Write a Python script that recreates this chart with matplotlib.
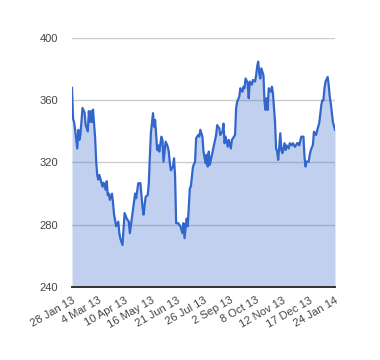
import matplotlib
matplotlib.use("Agg")
import matplotlib.pyplot as plt

plt.rcParams["font.family"] = ["Liberation Sans", "DejaVu Sans"]

# trading-day index and closing value
day = [
    0, 1, 2, 3, 5, 6, 7, 8, 10, 12, 13, 15, 16, 17, 18, 19, 20, 21, 22, 23,
    24, 25, 26, 28, 29, 30, 32, 33, 34, 35, 36, 38, 39, 40, 42, 44, 45, 46, 48, 50,
    52, 54, 55, 58, 60, 61, 63, 65, 67, 68, 70, 72, 73, 74, 75, 77, 78, 79, 81, 82,
    83, 85, 86, 87, 89, 91, 92, 93, 94, 96, 97, 98, 99, 101, 103, 105, 106, 107, 109, 110,
    112, 113, 115, 117, 118, 120, 121, 122, 124, 125, 127, 128, 129, 130, 131, 132, 135, 137, 138, 140,
    141, 143, 144, 145, 146, 148, 149, 151, 152, 155, 156, 157, 159, 160, 162, 163, 164, 165, 167, 168,
    169, 171, 172, 174, 175, 176, 177, 178, 179, 180, 182, 183, 184, 185, 186, 187, 189, 190, 191, 193,
    194, 195, 196, 198, 199, 200, 202, 203, 204, 206, 207, 209, 210, 212, 214, 215, 216, 218, 220, 221,
    222, 223, 225, 226, 227, 229, 230, 232, 234, 235, 237, 238, 239, 240, 241, 243, 244, 245, 246, 247,
    248, 250,
]
price = [
    368, 348, 346, 341, 329, 341, 334.5, 338, 355, 352, 344, 340, 353, 346, 353, 346, 354, 345, 335.6, 320.6,
    312, 309, 312, 307, 304.5, 307, 302.4, 308, 299, 300, 296, 300, 294, 286.5, 279, 282, 274.6, 271, 267, 287.5,
    284, 282, 274.6, 289.6, 300, 297, 306.7, 306.7, 291.7, 286.5, 298, 299, 306.7, 323.8, 339, 351.7, 343, 347.4, 328, 331,
    327, 336.6, 334.5, 320.6, 333.4, 330.2, 327, 319.5, 315, 317.4, 322.7, 311, 281, 281, 279, 274.6, 281, 271.4, 284, 279,
    303.5, 304.6, 317.4, 320.6, 335.6, 337.7, 336.6, 341, 336.6, 327, 319.5, 325, 317.4, 327, 318.5, 321.7, 331, 337.7, 344, 342,
    337.7, 339.8, 345, 332.4, 336.6, 330.2, 334.5, 329, 334.5, 337.7, 355, 359, 362.3, 367.7, 365.5, 368.7, 367.7, 374, 371, 361.3,
    372, 370, 373, 372, 376, 381.6, 384.8, 377.3, 374, 380.5, 376, 359, 353.8, 361.3, 353.8, 367.7, 365.5, 368.7, 364.5, 346,
    329, 327, 321.7, 338.8, 328, 326, 332.4, 328, 331, 329, 332.4, 331, 332.4, 330, 332.4, 332.4, 331, 336.6, 336.6, 323.8,
    317.4, 320.6, 320.6, 325, 328, 331.3, 339.8, 337.7, 343, 345.2, 357, 360, 360, 367.7, 372, 375, 370, 362.3, 358, 351.7,
    346, 341,
]

tick_days = [0, 25, 50, 75, 100, 125, 150, 175, 200, 225, 250]
tick_labels = [
    "28 Jan 13", "4 Mar 13", "10 Apr 13", "16 May 13", "21 Jun 13", "26 Jul 13",
    "2 Sep 13", "8 Oct 13", "12 Nov 13", "17 Dec 13", "24 Jan 14",
]
y_ticks = [240, 280, 320, 360, 400]

fig = plt.figure(figsize=(3.8, 3.6), dpi=100)
ax = fig.add_axes([72 / 380, 1 - 287 / 360, 263 / 380, 249 / 360])

ax.fill_between(day, price, 240, color="#3366CC", alpha=0.3, linewidth=0, zorder=2)
ax.plot(day, price, color="#3366CC", linewidth=1.6, zorder=3)

ax.set_xlim(0, 250)
ax.set_ylim(240, 400)
ax.set_yticks(y_ticks)
ax.set_yticklabels([str(v) for v in y_ticks])
ax.set_xticks(tick_days)
ax.set_xticklabels(tick_labels, rotation=30, ha="right", rotation_mode="anchor")

for v in y_ticks[1:]:
    ax.axhline(v, color="#CCCCCC", linewidth=1, zorder=1)

for side in ["top", "right", "left"]:
    ax.spines[side].set_visible(False)
ax.spines["bottom"].set_color("#333333")
ax.spines["bottom"].set_linewidth(1.4)
ax.spines["bottom"].set_zorder(4)

ax.tick_params(axis="y", length=0, pad=10, labelsize=8, labelcolor="#444444")
ax.tick_params(axis="x", length=0, pad=6, labelsize=8, labelcolor="#444444")

fig.savefig("out.png", dpi=100)
